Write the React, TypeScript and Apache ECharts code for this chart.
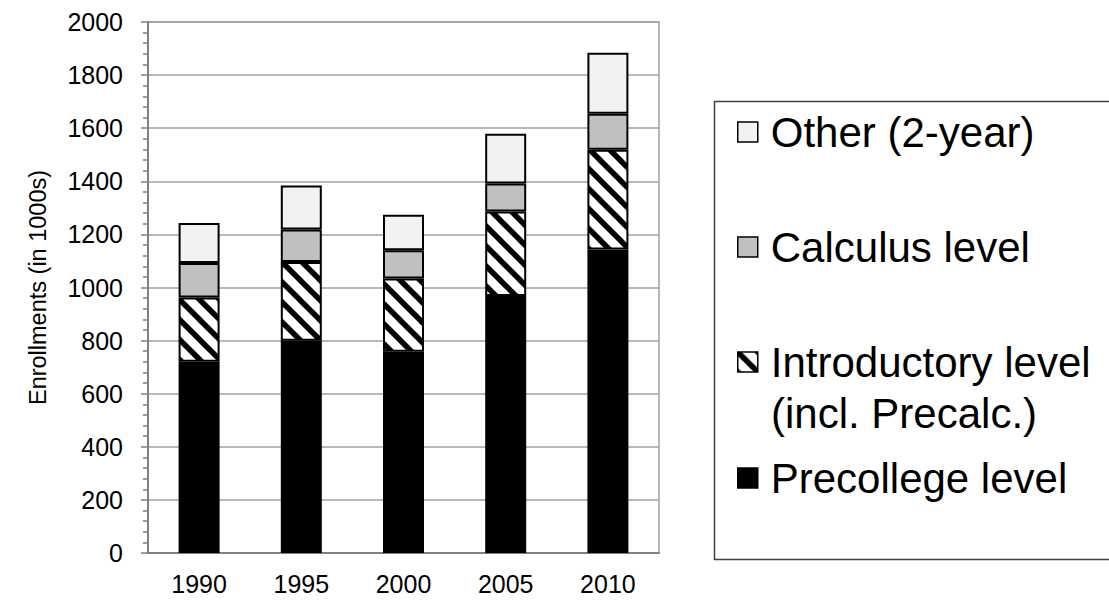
import React, { useEffect, useRef } from "react";
import * as echarts from "echarts";

const years = ["1990", "1995", "2000", "2005", "2010"];
const precollege = [720, 799, 758, 968, 1143];
const introductory = [242, 297, 276, 318, 376];
const calculus = [130, 122, 106, 106, 135];
const other = [151, 166, 134, 187, 230];

const NAME_OTHER = "Other (2-year)";
const NAME_CALC = "Calculus level";
const NAME_INTRO = "Introductory level";
const INTRO_SUB = "(incl. Precalc.)";
const NAME_PRE = "Precollege level";

function makeHatch(): HTMLCanvasElement {
  const s = 20;
  const c = document.createElement("canvas");
  c.width = s;
  c.height = s;
  const ctx = c.getContext("2d")!;
  ctx.fillStyle = "#ffffff";
  ctx.fillRect(0, 0, s, s);
  ctx.strokeStyle = "#000000";
  ctx.lineWidth = 5.5;
  for (const off of [-s, 0, s]) {
    ctx.beginPath();
    ctx.moveTo(off - 2, -2);
    ctx.lineTo(off + s + 2, s + 2);
    ctx.stroke();
  }
  return c;
}

export default function App() {
  const ref = useRef<HTMLDivElement>(null);
  useEffect(() => {
    document.body.style.margin = "0";
    const chart = echarts.init(ref.current!, null, { renderer: "svg" });
    const hatch = makeHatch();
    const font = "'Liberation Sans', Arial, sans-serif";
    const barBase = {
      type: "bar" as const,
      stack: "total",
      barWidth: 41,
      itemStyle: { borderColor: "#000", borderWidth: 2 },
    };
    const legendBase = (name: string, center: number) => ({
      data: [name],
      orient: "vertical",
      left: 737,
      top: center - 22,
      padding: 0,
      icon: "rect",
      itemWidth: 20,
      itemHeight: 20,
      selectedMode: false,
      itemStyle: { borderColor: "#000", borderWidth: 1.5 },
      textStyle: {
        fontFamily: font,
        fontSize: 42,
        lineHeight: 44,
        color: "#000",
        padding: [0, 0, 0, 8],
      },
    });
    chart.setOption({
      animation: false,
      grid: {
        left: 148,
        right: 450,
        top: 22,
        bottom: 47,
        show: true,
        borderColor: "#a0a0a0",
        borderWidth: 1.5,
      },
      xAxis: {
        type: "category",
        data: years,
        axisLine: { lineStyle: { color: "#808080", width: 2 } },
        axisTick: { length: 7, lineStyle: { color: "#808080", width: 1.5 } },
        axisLabel: { fontFamily: font, fontSize: 25, color: "#000", margin: 18 },
      },
      yAxis: {
        type: "value",
        min: 0,
        max: 2000,
        interval: 200,
        name: "Enrollments (in 1000s)",
        nameLocation: "middle",
        nameGap: 98,
        nameTextStyle: { fontFamily: font, fontSize: 23.5, color: "#000" },
        axisLine: { show: true, lineStyle: { color: "#808080", width: 2 } },
        axisTick: { show: true, length: 7, lineStyle: { color: "#808080", width: 1.5 } },
        minorTick: { show: true, splitNumber: 5, length: 5, lineStyle: { color: "#808080", width: 1.5 } },
        splitLine: { lineStyle: { color: "#a0a0a0", width: 1.5 } },
        axisLabel: {
          fontFamily: font,
          fontSize: 25,
          color: "#000",
          margin: 25,
          formatter: (v: number) => String(v),
        },
      },
      legend: [
        legendBase(NAME_OTHER, 132),
        legendBase(NAME_CALC, 247),
        legendBase(NAME_INTRO, 362),
        legendBase(NAME_PRE, 478),
      ],
      graphic: [
        {
          type: "rect",
          left: 712,
          top: 99,
          shape: { x: 0, y: 0, width: 420, height: 458 },
          style: { fill: "none", stroke: "#404040", lineWidth: 1.5 },
          silent: true,
          z: -1,
        },
        {
          type: "text",
          x: 771,
          y: 413,
          style: {
            text: INTRO_SUB,
            fontFamily: font,
            fontSize: 42,
            fill: "#000",
            textVerticalAlign: "middle",
            verticalAlign: "middle",
          },
          silent: true,
        },
      ],
      series: [
        { ...barBase, name: NAME_PRE, data: precollege, itemStyle: { ...barBase.itemStyle, color: "#000" } },
        {
          ...barBase,
          name: NAME_INTRO,
          data: introductory,
          itemStyle: {
            ...barBase.itemStyle,
            color: { image: hatch, repeat: "repeat", imageWidth: 20, imageHeight: 20 },
          },
        },
        { ...barBase, name: NAME_CALC, data: calculus, itemStyle: { ...barBase.itemStyle, color: "#c0c0c0" } },
        { ...barBase, name: NAME_OTHER, data: other, itemStyle: { ...barBase.itemStyle, color: "#f2f2f2" } },
      ],
    });
    return () => chart.dispose();
  }, []);
  return <div ref={ref} style={{ width: 1109, height: 600 }} />;
}
